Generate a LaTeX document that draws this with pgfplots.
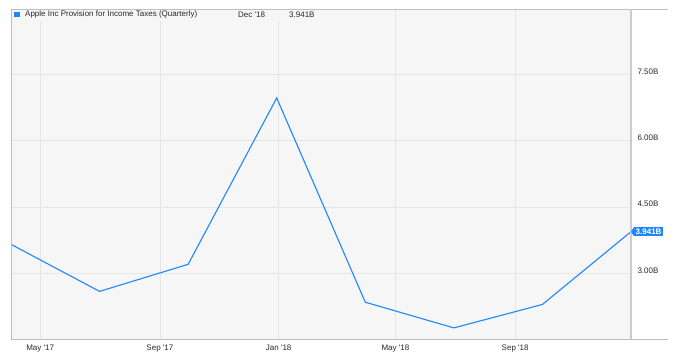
\documentclass[border=0pt]{standalone}
\usepackage{fontspec}
\setmainfont{Liberation Sans}
\usepackage{pgfplots}
\pgfplotsset{compat=1.18}
\definecolor{lineblue}{RGB}{30,134,255}
\definecolor{plotbg}{RGB}{246,246,246}
\definecolor{gridc}{RGB}{230,230,230}
\definecolor{bordc}{RGB}{190,190,190}
\definecolor{rightc}{RGB}{204,204,204}
\definecolor{txt}{RGB}{40,40,40}
\newcommand{\ap}{\textquotesingle}
\begin{document}
\begin{tikzpicture}[x=1pt,y=1pt]
\useasboundingbox (0,0) rectangle (677,360);
\begin{axis}[
 at={(11pt,21pt)}, anchor=south west,
 scale only axis, width=620pt, height=330pt,
 xmin=0, xmax=637, ymin=1.514, ymax=8.977,
 axis background/.style={fill=plotbg},
 axis line style={draw=none},
 xtick={30,153,275,395,518},
 xticklabels={May \ap17, Sep \ap17, Jan \ap18, May \ap18, Sep \ap18},
 ytick={3,4.5,6,7.5},
 yticklabels={3.00B,4.50B,6.00B,7.50B},
 yticklabel pos=right,
 major tick length=0pt,
 grid=major,
 major grid style={draw=gridc, line width=0.6pt},
 tick label style={font=\fontsize{8}{9}\selectfont, text=txt},
 yticklabel style={anchor=west, xshift=3pt, yshift=3pt},
 xticklabel style={anchor=north, yshift=-2pt},
 clip=false,
]
\addplot[lineblue, line width=1.1pt, mark=none] coordinates {
 (0,3.655) (91,2.591) (182,3.203) (273,6.965) (364,2.346) (455,1.765) (546,2.296) (637,3.941)
};
% legend
\fill[plotbg] (axis description cs:0,1) rectangle ([xshift=308pt,yshift=-12pt]axis description cs:0,1);
\fill[lineblue] ([xshift=3pt,yshift=-3pt]axis description cs:0,1) rectangle ++(5.5pt,-5.5pt);
\node[anchor=west, inner sep=0pt, font=\fontsize{8}{9}\selectfont, text=txt] at ([xshift=14pt,yshift=-5.8pt]axis description cs:0,1) {Apple Inc Provision for Income Taxes (Quarterly)};
\node[anchor=west, inner sep=0pt, font=\fontsize{8}{9}\selectfont, text=txt] at ([xshift=227pt,yshift=-5.8pt]axis description cs:0,1) {Dec \ap18};
\node[anchor=west, inner sep=0pt, font=\fontsize{8}{9}\selectfont, text=txt] at ([xshift=278pt,yshift=-5.8pt]axis description cs:0,1) {3.941B};
% borders
\draw[bordc, line width=0.8pt] (axis description cs:0,0) -- (axis description cs:0,1);
\draw[bordc, line width=0.8pt] (axis description cs:0,1) -- ([xshift=37pt]axis description cs:1,1);
\draw[bordc, line width=0.8pt] (axis description cs:0,0) -- ([xshift=37pt]axis description cs:1,0);
\draw[rightc, line width=2pt] (axis description cs:1,0) -- (axis description cs:1,1);
% value label
\node (lbl) [anchor=west, fill=lineblue, text=white, font=\bfseries\fontsize{8}{9}\selectfont, inner xsep=1.5pt, inner ysep=1.8pt] at ([xshift=3pt]axis cs:637,3.941) {3.941B};
\fill[lineblue] (axis cs:637,3.941) -- (lbl.north west) -- (lbl.south west) -- cycle;
\end{axis}
\end{tikzpicture}
\end{document}
